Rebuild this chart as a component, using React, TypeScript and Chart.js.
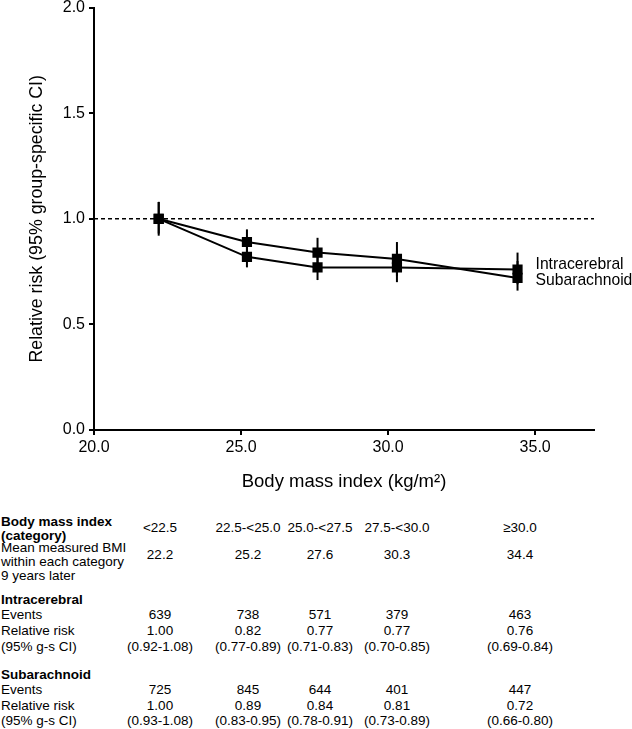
import React, { useEffect, useRef } from "react";
import { Chart, registerables } from "chart.js";

Chart.register(...registerables);

// ---- data ----
const bmiCategories = ["<22.5", "22.5-<25.0", "25.0-<27.5", "27.5-<30.0", "≥30.0"];
const meanBmi = [22.2, 25.2, 27.6, 30.3, 34.4];

const icEvents = [639, 738, 571, 379, 463];
const icRR = [1.0, 0.82, 0.77, 0.77, 0.76];
const icLow = [0.92, 0.77, 0.71, 0.7, 0.69];
const icHigh = [1.08, 0.89, 0.83, 0.85, 0.84];

const saEvents = [725, 845, 644, 401, 447];
const saRR = [1.0, 0.89, 0.84, 0.81, 0.72];
const saLow = [0.93, 0.83, 0.78, 0.73, 0.66];
const saHigh = [1.08, 0.95, 0.91, 0.89, 0.8];

const xTicks = [20, 25, 30, 35];
const yTicks = [0, 0.5, 1.0, 1.5, 2.0];
const refLineX = [20, 37];
const refValue = 1.0;

// ---- layout ----
const FONT = "'Liberation Sans', Arial, Helvetica, sans-serif";
const colCenters = [160, 248, 320, 397, 520];
const CANVAS_SHIFT = 6;

const errorBarPlugin = {
  id: "errorBarsAndLabels",
  beforeDatasetsDraw(chart: any) {
    const { ctx, scales } = chart;
    const x = scales.x;
    const y = scales.y;
    ctx.save();
    ctx.strokeStyle = "#000";
    ctx.lineWidth = 2;
    const sets: [number[], number[]][] = [
      [icLow, icHigh],
      [saLow, saHigh],
    ];
    sets.forEach(([lo, hi]) => {
      meanBmi.forEach((b, i) => {
        const px = x.getPixelForValue(b);
        ctx.beginPath();
        ctx.moveTo(px, y.getPixelForValue(lo[i]));
        ctx.lineTo(px, y.getPixelForValue(hi[i]));
        ctx.stroke();
      });
    });
    ctx.restore();
  },
  afterDatasetsDraw(chart: any) {
    const { ctx, scales } = chart;
    const x = scales.x;
    const y = scales.y;
    const last = meanBmi.length - 1;
    const lx = x.getPixelForValue(meanBmi[last]) + 18;
    ctx.save();
    ctx.fillStyle = "#000";
    ctx.font = `15.7px ${FONT}`;
    ctx.textBaseline = "middle";
    ctx.textAlign = "left";
    ctx.fillText("Intracerebral", lx, y.getPixelForValue(icRR[last]) - 5);
    ctx.fillText("Subarachnoid", lx, y.getPixelForValue(saRR[last]) + 3);
    ctx.restore();
  },
};

function Txt({ x, y, children, bold, center }: any) {
  return (
    <div
      style={{
        position: "absolute",
        left: x,
        top: y - 8,
        height: 16,
        lineHeight: "16px",
        fontSize: 13.5,
        fontFamily: FONT,
        fontWeight: bold ? "bold" : "normal",
        whiteSpace: "nowrap",
        color: "#000",
        transform: center ? "translateX(-50%)" : undefined,
      }}
    >
      {children}
    </div>
  );
}

const ci = (lo: number, hi: number) => `(${lo.toFixed(2)}-${hi.toFixed(2)})`;

export default function App() {
  const canvasRef = useRef<HTMLCanvasElement | null>(null);

  useEffect(() => {
    if (!canvasRef.current) return;
    const chart = new Chart(canvasRef.current, {
      type: "line",
      data: {
        datasets: [
          {
            label: "ref",
            data: refLineX.map((v) => ({ x: v, y: refValue })),
            borderColor: "#000",
            borderWidth: 1.5,
            borderDash: [4, 3],
            pointRadius: 0,
            fill: false,
          },
          {
            label: "Intracerebral",
            data: meanBmi.map((v, i) => ({ x: v, y: icRR[i] })),
            borderColor: "#000",
            backgroundColor: "#000",
            borderWidth: 2,
            pointStyle: "rect",
            pointRadius: 7.2,
            pointBorderWidth: 0,
            fill: false,
          },
          {
            label: "Subarachnoid",
            data: meanBmi.map((v, i) => ({ x: v, y: saRR[i] })),
            borderColor: "#000",
            backgroundColor: "#000",
            borderWidth: 2,
            pointStyle: "rect",
            pointRadius: 7.2,
            pointBorderWidth: 0,
            fill: false,
          },
        ],
      },
      options: {
        responsive: false,
        animation: false,
        layout: { padding: { top: 0, right: 38, left: 0, bottom: 0 } },
        plugins: {
          legend: { display: false },
          tooltip: { enabled: false },
        },
        scales: {
          x: {
            type: "linear",
            min: 20,
            max: 37,
            afterBuildTicks: (scale: any) => {
              scale.ticks = xTicks.map((v) => ({ value: v }));
            },
            afterFit: (scale: any) => {
              scale.height = 70;
            },
            ticks: {
              color: "#000",
              font: { family: FONT, size: 16 },
              padding: 3,
              callback: (v: any) => Number(v).toFixed(1),
              maxRotation: 0,
            },
            grid: {
              display: true,
              drawOnChartArea: false,
              drawTicks: true,
              tickLength: 5,
              color: "#000",
              lineWidth: 2,
            },
            border: { display: true, color: "#000", width: 2 },
            title: {
              display: true,
              text: "Body mass index (kg/m²)",
              color: "#000",
              font: { family: FONT, size: 18.5 },
              padding: { top: 0, bottom: 7.4 },
            },
          },
          y: {
            type: "linear",
            min: 0,
            max: 2,
            afterBuildTicks: (scale: any) => {
              scale.ticks = yTicks.map((v) => ({ value: v }));
            },
            afterFit: (scale: any) => {
              scale.width = 94;
            },
            ticks: {
              color: "#000",
              font: { family: FONT, size: 16 },
              padding: 4,
              callback: (v: any) => Number(v).toFixed(1),
            },
            grid: {
              display: true,
              drawOnChartArea: false,
              drawTicks: true,
              tickLength: 5,
              color: "#000",
              lineWidth: 2,
            },
            border: { display: true, color: "#000", width: 2 },
            title: {
              display: true,
              text: "Relative risk (95% group-specific CI)",
              color: "#000",
              font: { family: FONT, size: 17.8 },
              padding: { top: 26.3, bottom: 0 },
            },
          },
        },
      },
      plugins: [errorBarPlugin],
    } as any);
    return () => chart.destroy();
  }, []);

  return (
    <div
      style={{
        position: "absolute",
        left: 0,
        top: 0,
        width: 632,
        height: 729,
        background: "#fff",
        overflow: "hidden",
      }}
    >
      <canvas
        ref={canvasRef}
        width={632}
        height={500 + CANVAS_SHIFT}
        style={{ position: "absolute", left: 0, top: -CANVAS_SHIFT, display: "block" }}
      />
      {/* table */}
      <Txt x={1} y={522} bold>Body mass index</Txt>
      <Txt x={1} y={535.5} bold>(category)</Txt>
      <Txt x={1} y={548}>Mean measured BMI</Txt>
      <Txt x={1} y={562}>within each category</Txt>
      <Txt x={1} y={576}>9 years later</Txt>
      {bmiCategories.map((c, i) => (
        <Txt key={"c" + i} x={colCenters[i]} y={528} center>{c}</Txt>
      ))}
      {meanBmi.map((v, i) => (
        <Txt key={"m" + i} x={colCenters[i]} y={555} center>{v.toFixed(1)}</Txt>
      ))}

      <Txt x={1} y={600} bold>Intracerebral</Txt>
      <Txt x={1} y={615}>Events</Txt>
      <Txt x={1} y={631}>Relative risk</Txt>
      <Txt x={1} y={647}>(95% g-s CI)</Txt>
      {icEvents.map((v, i) => (
        <Txt key={"ie" + i} x={colCenters[i]} y={615} center>{v}</Txt>
      ))}
      {icRR.map((v, i) => (
        <Txt key={"ir" + i} x={colCenters[i]} y={631} center>{v.toFixed(2)}</Txt>
      ))}
      {icLow.map((v, i) => (
        <Txt key={"ic" + i} x={colCenters[i]} y={647} center>{ci(v, icHigh[i])}</Txt>
      ))}

      <Txt x={1} y={675} bold>Subarachnoid</Txt>
      <Txt x={1} y={690}>Events</Txt>
      <Txt x={1} y={706}>Relative risk</Txt>
      <Txt x={1} y={721}>(95% g-s CI)</Txt>
      {saEvents.map((v, i) => (
        <Txt key={"se" + i} x={colCenters[i]} y={690} center>{v}</Txt>
      ))}
      {saRR.map((v, i) => (
        <Txt key={"sr" + i} x={colCenters[i]} y={706} center>{v.toFixed(2)}</Txt>
      ))}
      {saLow.map((v, i) => (
        <Txt key={"sc" + i} x={colCenters[i]} y={721} center>{ci(v, saHigh[i])}</Txt>
      ))}
    </div>
  );
}
